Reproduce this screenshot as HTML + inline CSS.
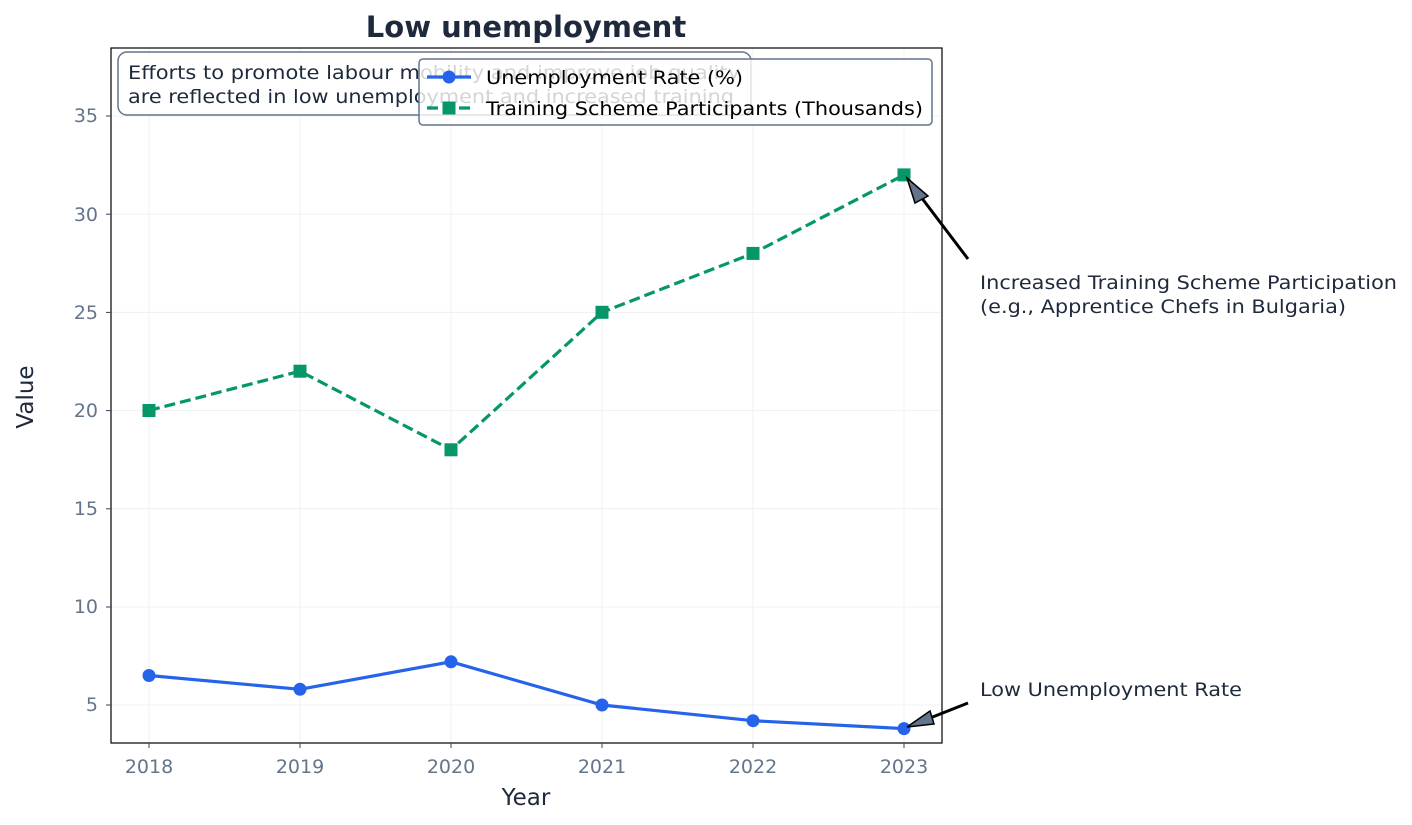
<!DOCTYPE html>
<html><head><meta charset="utf-8"><style>
body{margin:0;background:#fff}
svg{display:block;font-family:"DejaVu Sans","Liberation Sans",sans-serif}
</style></head><body>
<svg width="1412" height="825" viewBox="0 0 1412 825">
<rect width="1412" height="825" fill="#fff"/>
<g stroke="#eef0f3" stroke-width="1">
<line x1="149" y1="48" x2="149" y2="743"/><line x1="300" y1="48" x2="300" y2="743"/>
<line x1="451" y1="48" x2="451" y2="743"/><line x1="602" y1="48" x2="602" y2="743"/>
<line x1="753" y1="48" x2="753" y2="743"/><line x1="904" y1="48" x2="904" y2="743"/>
<line x1="111" y1="116" x2="942" y2="116"/><line x1="111" y1="214.2" x2="942" y2="214.2"/>
<line x1="111" y1="312.4" x2="942" y2="312.4"/><line x1="111" y1="410.6" x2="942" y2="410.6"/>
<line x1="111" y1="508.8" x2="942" y2="508.8"/><line x1="111" y1="607" x2="942" y2="607"/>
<line x1="111" y1="705" x2="942" y2="705"/>
</g>
<rect x="111" y="48" width="831" height="695" fill="none" stroke="#000" stroke-width="1.2"/>
<g stroke="#334155" stroke-width="1">
<line x1="149" y1="743" x2="149" y2="748"/><line x1="300" y1="743" x2="300" y2="748"/><line x1="451" y1="743" x2="451" y2="748"/><line x1="602" y1="743" x2="602" y2="748"/><line x1="753" y1="743" x2="753" y2="748"/><line x1="904" y1="743" x2="904" y2="748"/>
<line x1="106" y1="116" x2="111" y2="116"/><line x1="106" y1="214.2" x2="111" y2="214.2"/><line x1="106" y1="312.4" x2="111" y2="312.4"/><line x1="106" y1="410.6" x2="111" y2="410.6"/><line x1="106" y1="508.8" x2="111" y2="508.8"/><line x1="106" y1="607" x2="111" y2="607"/><line x1="106" y1="705" x2="111" y2="705"/>
</g>
<g fill="#64748b" font-size="19" text-anchor="middle">
<text x="149" y="773">2018</text><text x="300" y="773">2019</text><text x="451" y="773">2020</text><text x="602" y="773">2021</text><text x="753" y="773">2022</text><text x="904" y="773">2023</text>
</g>
<g fill="#64748b" font-size="19" text-anchor="end">
<text x="98" y="122">35</text><text x="98" y="221">30</text><text x="98" y="319">25</text><text x="98" y="417">20</text><text x="98" y="515">15</text><text x="98" y="613">10</text><text x="98" y="711">5</text>
</g>
<text x="526" y="805" font-size="23" fill="#1e293b" text-anchor="middle">Year</text>
<text x="33" y="397" font-size="23" fill="#1e293b" text-anchor="middle" transform="rotate(-90 33 397)">Value</text>
<text x="526" y="37" font-size="29" font-weight="bold" fill="#1e293b" text-anchor="middle">Low unemployment</text>
<polyline points="149,675.5 300,689.3 451,661.8 602,705 753,720.7 904,728.6" fill="none" stroke="#2563eb" stroke-width="3.2"/>
<g fill="#2563eb"><circle cx="149" cy="675.5" r="6.5"/><circle cx="300" cy="689.3" r="6.5"/><circle cx="451" cy="661.8" r="6.5"/><circle cx="602" cy="705" r="6.5"/><circle cx="753" cy="720.7" r="6.5"/><circle cx="904" cy="728.6" r="6.5"/></g>
<polyline points="149,410.5 300,371.2 451,449.8 602,312.3 753,253.4 904,174.9" fill="none" stroke="#059669" stroke-width="3.2" stroke-dasharray="11,5"/>
<g fill="#059669"><rect x="142.5" y="404" width="13" height="13"/><rect x="293.5" y="364.7" width="13" height="13"/><rect x="444.5" y="443.3" width="13" height="13"/><rect x="595.5" y="305.8" width="13" height="13"/><rect x="746.5" y="246.9" width="13" height="13"/><rect x="897.5" y="168.4" width="13" height="13"/></g>
<line x1="968" y1="259" x2="918" y2="193" stroke="#000" stroke-width="3"/>
<polygon points="907,178 928,196 915,203" fill="#64748b" stroke="#000" stroke-width="1.5"/>
<line x1="968" y1="703" x2="925" y2="720" stroke="#000" stroke-width="3"/>
<polygon points="907,727 930,711 934,724" fill="#64748b" stroke="#000" stroke-width="1.5"/>
<g fill="#1e293b" font-size="19">
<text x="980" y="289" textLength="417" lengthAdjust="spacingAndGlyphs">Increased Training Scheme Participation</text>
<text x="980" y="313" textLength="366" lengthAdjust="spacingAndGlyphs">(e.g., Apprentice Chefs in Bulgaria)</text>
<text x="980" y="696" textLength="262" lengthAdjust="spacingAndGlyphs">Low Unemployment Rate</text>
</g>
<rect x="118" y="52" width="633" height="63" rx="9" fill="#fff" fill-opacity="0.85" stroke="#64748b" stroke-width="1.5"/>
<g fill="#1e293b" font-size="19"><text x="128" y="79" textLength="612" lengthAdjust="spacingAndGlyphs">Efforts to promote labour mobility and improve job quality</text><text x="128" y="103" textLength="606" lengthAdjust="spacingAndGlyphs">are reflected in low unemployment and increased training</text></g>
<rect x="419" y="59" width="513" height="66" rx="4" fill="#fff" fill-opacity="0.8" stroke="#64748b" stroke-width="1.5"/>
<line x1="427" y1="77" x2="471" y2="77" stroke="#2563eb" stroke-width="3.2"/><circle cx="449" cy="77" r="6.5" fill="#2563eb"/>
<line x1="427" y1="108" x2="471" y2="108" stroke="#059669" stroke-width="3.2" stroke-dasharray="11,5"/><rect x="442.5" y="101.5" width="13" height="13" fill="#059669"/>
<g fill="#000" font-size="19"><text x="486" y="84" textLength="257" lengthAdjust="spacingAndGlyphs">Unemployment Rate (%)</text><text x="486" y="115" textLength="437" lengthAdjust="spacingAndGlyphs">Training Scheme Participants (Thousands)</text></g>
</svg>
</body></html>
